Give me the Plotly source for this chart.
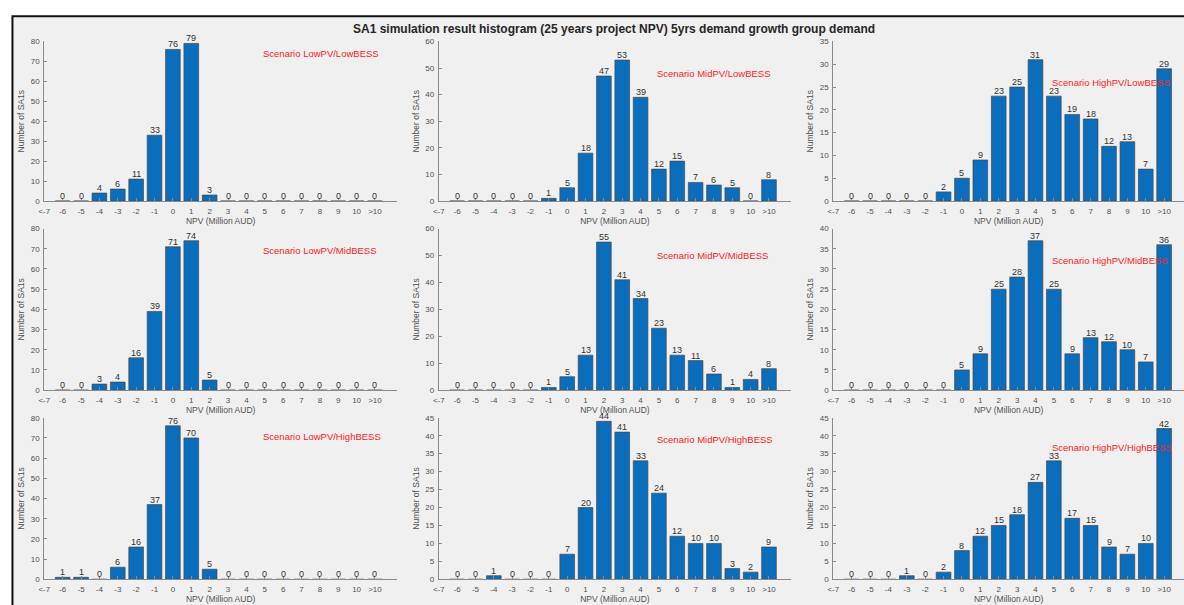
import plotly.graph_objects as go
from plotly.subplots import make_subplots

# NPV bins (Million AUD)
bins = ["<-7", "-6", "-5", "-4", "-3", "-2", "-1", "0", "1", "2", "3",
        "4", "5", "6", "7", "8", "9", "10", ">10"]

# Counts of SA1s per bin for each PV/BESS scenario (the "<-7" bin is not reported)
low_pv_low_bess = [None, 0, 0, 4, 6, 11, 33, 76, 79, 3, 0, 0, 0, 0, 0, 0, 0, 0, 0]
mid_pv_low_bess = [None, 0, 0, 0, 0, 0, 1, 5, 18, 47, 53, 39, 12, 15, 7, 6, 5, 0, 8]
high_pv_low_bess = [None, 0, 0, 0, 0, 0, 2, 5, 9, 23, 25, 31, 23, 19, 18, 12, 13, 7, 29]

low_pv_mid_bess = [None, 0, 0, 3, 4, 16, 39, 71, 74, 5, 0, 0, 0, 0, 0, 0, 0, 0, 0]
mid_pv_mid_bess = [None, 0, 0, 0, 0, 0, 1, 5, 13, 55, 41, 34, 23, 13, 11, 6, 1, 4, 8]
high_pv_mid_bess = [None, 0, 0, 0, 0, 0, 0, 5, 9, 25, 28, 37, 25, 9, 13, 12, 10, 7, 36]

low_pv_high_bess = [None, 1, 1, 0, 6, 16, 37, 76, 70, 5, 0, 0, 0, 0, 0, 0, 0, 0, 0]
mid_pv_high_bess = [None, 0, 0, 1, 0, 0, 0, 7, 20, 44, 41, 33, 24, 12, 10, 10, 3, 2, 9]
high_pv_high_bess = [None, 0, 0, 0, 1, 0, 2, 8, 12, 15, 18, 27, 33, 17, 15, 9, 7, 10, 42]

scenario_names = [
    "Scenario LowPV/LowBESS", "Scenario MidPV/LowBESS", "Scenario HighPV/LowBESS",
    "Scenario LowPV/MidBESS", "Scenario MidPV/MidBESS", "Scenario HighPV/MidBESS",
    "Scenario LowPV/HighBESS", "Scenario MidPV/HighBESS", "Scenario HighPV/HighBESS",
]
series = [
    low_pv_low_bess, mid_pv_low_bess, high_pv_low_bess,
    low_pv_mid_bess, mid_pv_mid_bess, high_pv_mid_bess,
    low_pv_high_bess, mid_pv_high_bess, high_pv_high_bess,
]
y_max = [80, 60, 35, 80, 60, 40, 80, 45, 45]
y_step = [10, 10, 5, 10, 10, 5, 10, 5, 5]
label_y = [74, 48, 26, 69, 50, 32, 70.7, 39, 36.8]

title_text = "SA1 simulation result histogram (25 years project NPV) 5yrs demand growth group demand"

W, H = 1184, 605
FONT = "Liberation Sans, Arial, sans-serif"
BAR = "#0b6ebd"
AXIS = "#8a8a8a"
TICK = "#505050"

# Plot-area geometry in pixels
col_px = [(38.5, 393), (435, 789), (831.5, 1184)]
row_px = [(38, 200), (228, 392), (420, 584)]
col_xmax = [19.2, 19.2, 19.08]

fig = make_subplots(rows=3, cols=3)

for k, vals in enumerate(series):
    r, c = k // 3 + 1, k % 3 + 1
    ax_idx = "" if k == 0 else str(k + 1)
    fig.add_trace(
        go.Bar(
            x=bins, y=vals,
            marker=dict(color=BAR, line=dict(color="rgba(70,70,70,0.85)", width=0.8)),
            showlegend=False,
            hoverinfo="x+y",
        ),
        row=r, col=c,
    )
    # count labels sitting just above each bar (category axis positions are bin indices)
    for pos, v in enumerate(vals):
        if v is None:
            continue
        fig.add_annotation(
            x=pos, y=v, xref="x" + ax_idx, yref="y" + ax_idx,
            text=str(v), showarrow=False,
            xanchor="center", yanchor="middle", yshift=5,
            borderpad=0,
            font=dict(family=FONT, size=9, color="#333333"),
        )

    x0, x1 = col_px[c - 1]
    top, bot = row_px[r - 1]
    fig.layout["xaxis" + ax_idx].update(
        domain=[x0 / W, min(x1 / W, 1.0)],
        type="category", categoryorder="array", categoryarray=bins,
        range=[0, col_xmax[c - 1]],
        showline=True, linecolor=AXIS, linewidth=1,
        ticks="inside", ticklen=3, tickcolor=AXIS,
        ticklabelstandoff=2,
        tickfont=dict(family=FONT, size=8, color=TICK),
        showgrid=False, zeroline=False,
        title=dict(text="NPV (Million AUD)", font=dict(family=FONT, size=8.5, color=TICK), standoff=0),
        fixedrange=True,
    )
    fig.layout["yaxis" + ax_idx].update(
        domain=[1 - bot / H, 1 - top / H],
        range=[0, y_max[k]],
        tickvals=list(range(0, y_max[k] + 1, y_step[k])),
        showline=True, linecolor=AXIS, linewidth=1,
        ticks="inside", ticklen=3, tickcolor=AXIS,
        ticklabelstandoff=2,
        tickfont=dict(family=FONT, size=8, color=TICK),
        showgrid=False, zeroline=False,
        title=dict(text="Number of SA1s", font=dict(family=FONT, size=8.5, color=TICK), standoff=4),
        fixedrange=True,
    )
    # scenario caption inside each panel
    fig.add_annotation(
        x=12, y=label_y[k], xref="x" + ax_idx, yref="y" + ax_idx,
        text=scenario_names[k], showarrow=False,
        xanchor="left", yanchor="middle", xshift=-4,
        font=dict(family=FONT, size=9.5, color="#ff2020"),
    )

# window frame: grey face with black border
fig.add_shape(
    type="rect", xref="paper", yref="paper",
    x0=6.5 / W, x1=1.02, y0=-0.02, y1=1 - 12.5 / H,
    fillcolor="#f0f0f0", line=dict(color="#111111", width=2), layer="below",
)

fig.add_annotation(
    x=611 / W, y=1 - 25 / H, xref="paper", yref="paper",
    text="<b>" + title_text + "</b>", showarrow=False,
    xanchor="center", yanchor="middle",
    font=dict(family=FONT, size=12, color="#262626"),
)

fig.update_layout(
    width=W, height=H,
    margin=dict(l=0, r=0, t=0, b=0),
    paper_bgcolor="white", plot_bgcolor="white",
    bargap=0.2,
)

fig.write_html("out.html")
